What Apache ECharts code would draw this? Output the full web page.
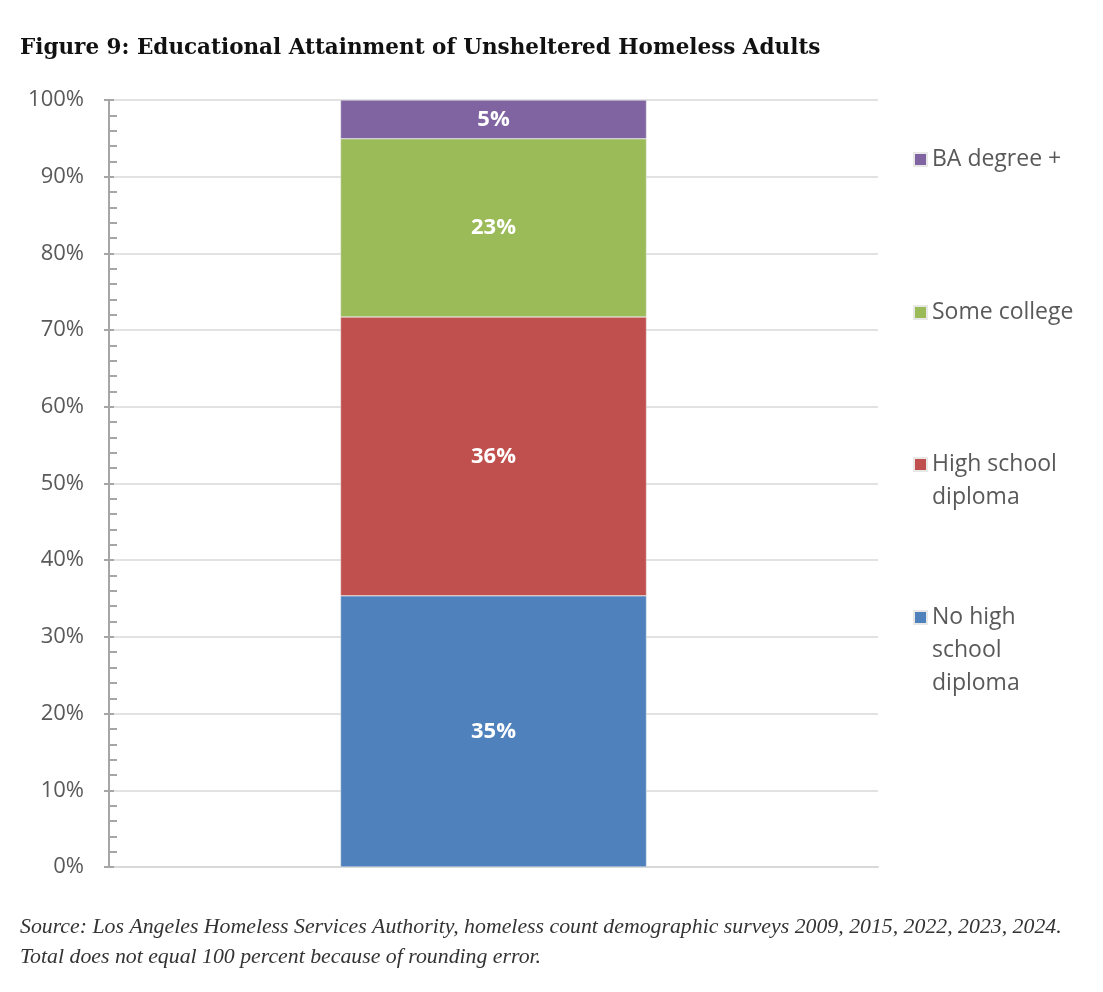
<!DOCTYPE html>
<html>
<head>
<meta charset="utf-8">
<script src="https://cdn.jsdelivr.net/npm/echarts@6/dist/echarts.min.js"></script>
<style>
  html, body { margin: 0; padding: 0; background: #fff; }
  #chart { width: 1103px; height: 992px; }
</style>
</head>
<body>
<div id="chart"></div>
<script>
// data
var categories = ['Unsheltered homeless adults'];
var seriesNames = ['No high school diploma', 'High school diploma', 'Some college', 'BA degree +'];
var seriesValues = [35, 36, 23, 5];
var seriesColors = ['#4F81BD', '#C0504D', '#9BBB59', '#8064A2'];
// wrapped legend text, as in the original
var legendLines = [['No high', 'school', 'diploma'], ['High school', 'diploma'], ['Some college'], ['BA degree +']];
var legendTops = [535, 415, 296, 143];

var chart = echarts.init(document.getElementById('chart'));

// 100% stacked: each segment is its share of the total
var total = seriesValues.reduce(function (a, b) { return a + b; }, 0);

var series = seriesNames.map(function (name, i) {
    return {
        name: name,
        type: 'bar',
        stack: 'all',
        barWidth: 306,
        data: [seriesValues[i] / total * 100],
        itemStyle: { color: seriesColors[i], borderColor: '#e8e8e8', borderWidth: 0.5 },
        label: {
            show: true,
            position: 'inside',
            color: '#fff',
            fontFamily: 'Open Sans',
            fontWeight: 'bold',
            fontSize: 22,
            formatter: function () { return seriesValues[i] + '%'; }
        }
    };
});

// one legend per item so each can sit where the original put it
var legends = seriesNames.map(function (name, i) {
    var lines = legendLines[i];
    // blank lines above keep the square level with the first line
    var pad = [];
    for (var k = 1; k < lines.length; k++) pad.push(' ');
    var txt = pad.concat(lines).join('\n');
    return {
        data: [name],
        left: 913,
        top: legendTops[i],
        orient: 'vertical',
        padding: 0,
        itemWidth: 13,
        itemHeight: 13,
        itemGap: 0,
        icon: 'rect',
        selectedMode: false,
        formatter: function () { return txt; },
        textStyle: { fontFamily: 'Open Sans', fontSize: 23, color: '#595959', lineHeight: 33 }
    };
});

var option = {
    animation: false,
    backgroundColor: '#fff',
    title: [{
        text: 'Figure 9: Educational Attainment of Unsheltered Homeless Adults',
        left: 20,
        top: 37,
        padding: 0,
        textStyle: { fontFamily: 'DejaVu Serif', fontWeight: 'bold', fontSize: 21.5, color: '#111' }
    }, {
        text: 'Source: Los Angeles Homeless Services Authority, homeless count demographic surveys 2009, 2015, 2022, 2023, 2024.\nTotal does not equal 100 percent because of rounding error.',
        left: 20,
        top: 912,
        padding: 0,
        textStyle: { fontFamily: 'Liberation Serif', fontStyle: 'italic', fontWeight: 'normal', fontSize: 21.8, color: '#333', lineHeight: 30 }
    }],
    legend: legends,
    grid: { left: 109, right: 225, top: 100, bottom: 125, containLabel: false },
    xAxis: {
        type: 'category',
        data: categories,
        axisLine: { show: true, lineStyle: { color: '#d9d9d9', width: 2 } },
        axisTick: { show: false },
        axisLabel: { show: false }
    },
    yAxis: [{
        type: 'value',
        min: 0,
        max: 100,
        interval: 10,
        axisLine: { show: true, lineStyle: { color: '#a6a6a6', width: 2 } },
        axisTick: { show: true, inside: true, length: 5, lineStyle: { color: '#a6a6a6', width: 2 } },
        minorTick: { show: true, splitNumber: 5, length: 8, lineStyle: { color: '#a6a6a6', width: 2 } },
        splitLine: { show: true, lineStyle: { color: '#d9d9d9', width: 1.5 } },
        axisLabel: {
            color: '#595959',
            fontFamily: 'Open Sans',
            fontSize: 22,
            margin: 25,
            formatter: '{value}%'
        }
    }, {
        // outside half of the major ticks
        type: 'value',
        position: 'left',
        min: 0,
        max: 100,
        interval: 10,
        axisLine: { show: false },
        axisTick: { show: true, length: 5, lineStyle: { color: '#a6a6a6', width: 2 } },
        splitLine: { show: false },
        axisLabel: { show: false }
    }],
    series: series
};

chart.setOption(option);
</script>
</body>
</html>
